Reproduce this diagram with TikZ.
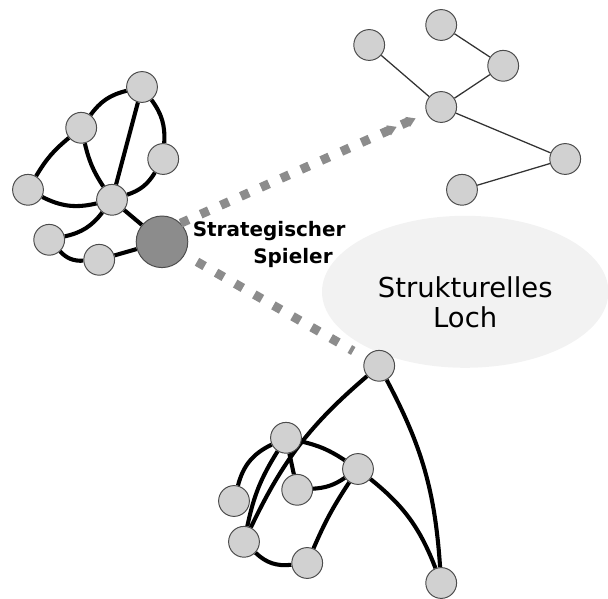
\documentclass[tikz,border=0pt]{standalone}
\usepackage{fontspec}
\setmainfont{DejaVu Sans}
\usetikzlibrary{arrows.meta, backgrounds}

\begin{document}
\begin{tikzpicture}[
  actor/.style={circle, draw=black!70, line width=0.7pt, fill=black!18, minimum size=0.77cm, inner sep=0pt},
  broker/.style={actor, fill=black!45, minimum size=1.29cm},
  tie/.style={line width=2.9pt},
  weaktie/.style={line width=0.9pt, draw=black!80},
  bridge/.style={draw=black!45, line width=6.4pt, dash pattern=on 0.22cm off 0.33cm}
]
  \useasboundingbox (0,0) rectangle (15.2,14.975);

  % dense group, left
  \node[actor] (a1) at (3.55,12.80) {};
  \node[actor] (a2) at (2.03,11.78) {};
  \node[actor] (a3) at (4.08,11.00) {};
  \node[actor] (a4) at (0.70,10.23) {};
  \node[actor] (a5) at (2.80,9.98) {};
  \node[actor] (a6) at (1.23,8.98) {};
  \node[actor] (a7) at (2.48,8.48) {};
  \node[broker] (spieler) at (4.05,8.93) {};

  % loose tree, top right
  \node[actor] (t1) at (11.03,14.35) {};
  \node[actor] (t2) at (9.23,13.85) {};
  \node[actor] (t3) at (12.58,13.33) {};
  \node[actor] (t4) at (11.03,12.30) {};
  \node[actor] (t5) at (14.13,11.00) {};
  \node[actor] (t6) at (11.55,10.23) {};

  % dense group, bottom
  \node[actor] (u1) at (9.48,5.83) {};
  \node[actor] (u2) at (7.15,4.03) {};
  \node[actor] (u3) at (8.95,3.25) {};
  \node[actor] (u4) at (7.43,2.73) {};
  \node[actor] (u5) at (5.85,2.45) {};
  \node[actor] (u6) at (6.10,1.43) {};
  \node[actor] (u7) at (7.68,0.90) {};
  \node[actor] (u8) at (11.03,0.40) {};

  \begin{scope}[on background layer]
    \fill[black!5] (11.63,7.68) ellipse [x radius=3.58, y radius=1.9];

    \draw[tie] (a1) to[bend right=20] (a2);
    \draw[tie] (a1) -- (a5);
    \draw[tie] (a1) to[bend left=20] (a3);
    \draw[tie] (a2) to[bend right=10] (a4);
    \draw[tie] (a2) to[bend right=10] (a5);
    \draw[tie] (a4) to[bend right=20] (a5);
    \draw[tie] (a3) to[bend left=20] (a5);
    \draw[tie] (a5) to[bend left=20] (a6);
    \draw[tie] (a5) -- (spieler);
    \draw[tie] (a6) to[bend right=25] (a7);
    \draw[tie] (a7) -- (spieler);

    \draw[weaktie] (t2) -- (t4);
    \draw[weaktie] (t1) -- (t3);
    \draw[weaktie] (t3) -- (t4);
    \draw[weaktie] (t4) -- (t5);
    \draw[weaktie] (t5) -- (t6);

    \draw[tie] (u1) to[bend right=12] (u6);
    \draw[tie] (u1) to[bend left=12] (u8);
    \draw[tie] (u2) to[bend right=25] (u5);
    \draw[tie] (u2) to[bend right=10] (u6);
    \draw[tie] (u2) -- (u4);
    \draw[tie] (u2) to[bend left=10] (u3);
    \draw[tie] (u3) to[bend left=15] (u4);
    \draw[tie] (u3) to[bend right=5] (u7);
    \draw[tie] (u3) to[bend left=15] (u8);
    \draw[tie] (u6) to[bend right=25] (u7);
  \end{scope}

  % bridges of the broker
  \draw[bridge, shorten >=0.3cm, -{Triangle[length=0.22cm, width=0.26cm, sep=0.3cm]Triangle[length=0.22cm, width=0.26cm]}] (spieler.north east) -- (t4);
  \draw[bridge, shorten <=0.35cm, shorten >=0.35cm] (spieler) -- (u1);

  \node[font=\bfseries\fontsize{14.2}{19.2}\selectfont, align=right, inner sep=0pt] (spielerlabel) at (6.73,8.86) {Strategischer\\Spieler\hspace*{0.65em}};
  \node[font=\fontsize{19.5}{21.3}\selectfont, align=center, inner sep=0pt] (lochlabel) at (11.63,7.41) {Strukturelles\\Loch};
\end{tikzpicture}
\end{document}
